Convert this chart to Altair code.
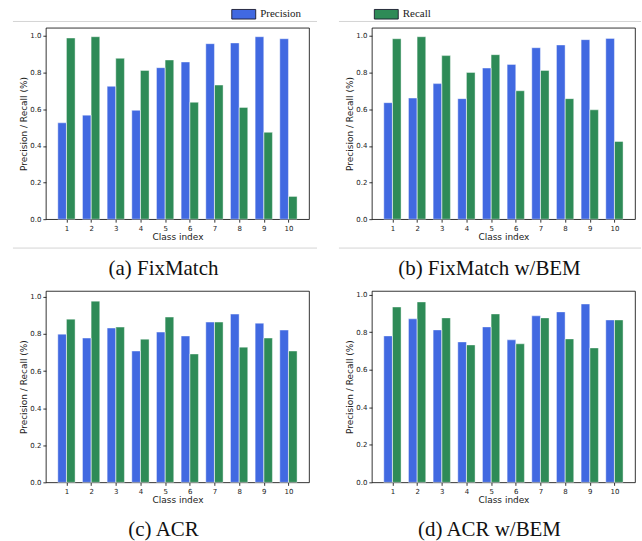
import altair as alt
import pandas as pd

classes = list(range(1, 11))
metrics = ["Precision", "Recall"]
colors = ["#4169E1", "#2E8B57"]
y_ticks = [0.0, 0.2, 0.4, 0.6, 0.8, 1.0]

fixmatch_precision = [0.526, 0.568, 0.725, 0.594, 0.827, 0.858, 0.958, 0.962, 0.996, 0.985]
fixmatch_recall = [0.989, 0.996, 0.878, 0.812, 0.869, 0.638, 0.732, 0.610, 0.474, 0.124]

fixmatch_bem_precision = [0.636, 0.661, 0.740, 0.658, 0.825, 0.845, 0.936, 0.951, 0.980, 0.987]
fixmatch_bem_recall = [0.985, 0.996, 0.893, 0.801, 0.898, 0.701, 0.812, 0.658, 0.597, 0.424]

acr_precision = [0.799, 0.778, 0.832, 0.708, 0.810, 0.789, 0.864, 0.907, 0.858, 0.821]
acr_recall = [0.880, 0.977, 0.837, 0.772, 0.891, 0.692, 0.864, 0.729, 0.778, 0.708]

acr_bem_precision = [0.780, 0.871, 0.812, 0.748, 0.828, 0.759, 0.887, 0.908, 0.950, 0.865]
acr_bem_recall = [0.934, 0.961, 0.876, 0.732, 0.897, 0.738, 0.876, 0.764, 0.716, 0.865]

captions = ["(a) FixMatch", "(b) FixMatch w/BEM", "(c) ACR", "(d) ACR w/BEM"]
y_max = [1.045, 1.045, 1.032, 1.0196]

W, H = 264, 192
one = pd.DataFrame({"d": [0]})


def panel(prec, rec, caption, ymax, cap_y, extras=False):
    df = pd.DataFrame({
        "cls": classes * 2,
        "metric": ["Precision"] * len(classes) + ["Recall"] * len(classes),
        "value": prec + rec,
    })
    base = alt.Chart(df).transform_calculate(
        x0="datum.cls - (datum.metric == 'Precision' ? 0.35 : 0)",
        x1="datum.cls + (datum.metric == 'Precision' ? 0 : 0.35)",
    )
    xenc = alt.X("x0:Q",
                 scale=alt.Scale(domain=[0.165, 10.835], nice=False, zero=False),
                 axis=alt.Axis(values=classes, title="Class index", format="d",
                               titleY=17, titleBaseline="middle", labelAngle=0))
    yenc = alt.Y("value:Q",
                 scale=alt.Scale(domain=[0, ymax], nice=False),
                 axis=alt.Axis(values=y_ticks, format=".1f", title="Precision / Recall (%)",
                               titleX=-22, titleY=H / 2, titleBaseline="middle",
                               titleAlign="center"))
    bars = base.mark_bar().encode(
        x=xenc, x2="x1:Q", y=yenc, y2=alt.datum(0),
        color=alt.Color("metric:N",
                        scale=alt.Scale(domain=metrics, range=colors),
                        legend=alt.Legend(title=None, orient="none", legendX=186, legendY=-26.5,
                                          direction="horizontal",
                                          symbolType="M-1,-0.4H1V0.4H-1Z", symbolSize=576,
                                          symbolStrokeColor="#1a1a2e", symbolStrokeWidth=0.9,
                                          symbolOpacity=1,
                                          labelFont="Liberation Serif", labelFontSize=11,
                                          labelColor="#222", labelOffset=4,
                                          columnPadding=71, padding=0)),
    )
    edges = base.mark_bar(filled=False, stroke="white", strokeWidth=0.7, strokeOpacity=0.6).encode(
        x=xenc, x2="x1:Q", y=yenc, y2=alt.datum(0))
    cap = alt.Chart(one).mark_text(font="Liberation Serif", fontSize=21, align="center",
                                   baseline="alphabetic", color="#111").encode(
        x=alt.value(118), y=alt.value(cap_y), text=alt.value(caption))
    layers = []
    if extras:
        bg = alt.Chart(one).mark_rect(opacity=0).encode(
            x=alt.value(-45), x2=alt.value(597), y=alt.value(-26), y2=alt.value(515))
        layers.append(bg)
        for (xa, xb, yy) in [(-33, 272, -6.3), (294, 597, -6.3), (-33, 272, 221), (294, 597, 221)]:
            layers.append(alt.Chart(one).mark_rule(color="#d4d4d4", strokeWidth=1).encode(
                x=alt.value(xa), x2=alt.value(xb), y=alt.value(yy)))
    layers += [bars, edges, cap]
    return alt.layer(*layers).properties(width=W, height=H)


a = panel(fixmatch_precision, fixmatch_recall, captions[0], y_max[0], 248, extras=True)
b = panel(fixmatch_bem_precision, fixmatch_bem_recall, captions[1], y_max[1], 248)
c = panel(acr_precision, acr_recall, captions[2], y_max[2], 246)
d = panel(acr_bem_precision, acr_bem_recall, captions[3], y_max[3], 246)

chart = alt.concat(a, b, c, d, columns=2, bounds="flush",
                   spacing={"row": 72, "column": 63}).properties(
    padding=0, background="white"
).configure_view(stroke="black", strokeWidth=0.8).configure_axis(
    labelFont="DejaVu Sans", labelFontSize=7, labelColor="#222",
    titleFont="DejaVu Sans", titleFontSize=9, titleFontWeight="normal", titleColor="#222",
    tickSize=3, tickWidth=0.8, tickColor="black", labelPadding=2,
    domain=False, grid=False,
)

chart.save("out.html", embed_options={"renderer": "svg", "actions": False})
